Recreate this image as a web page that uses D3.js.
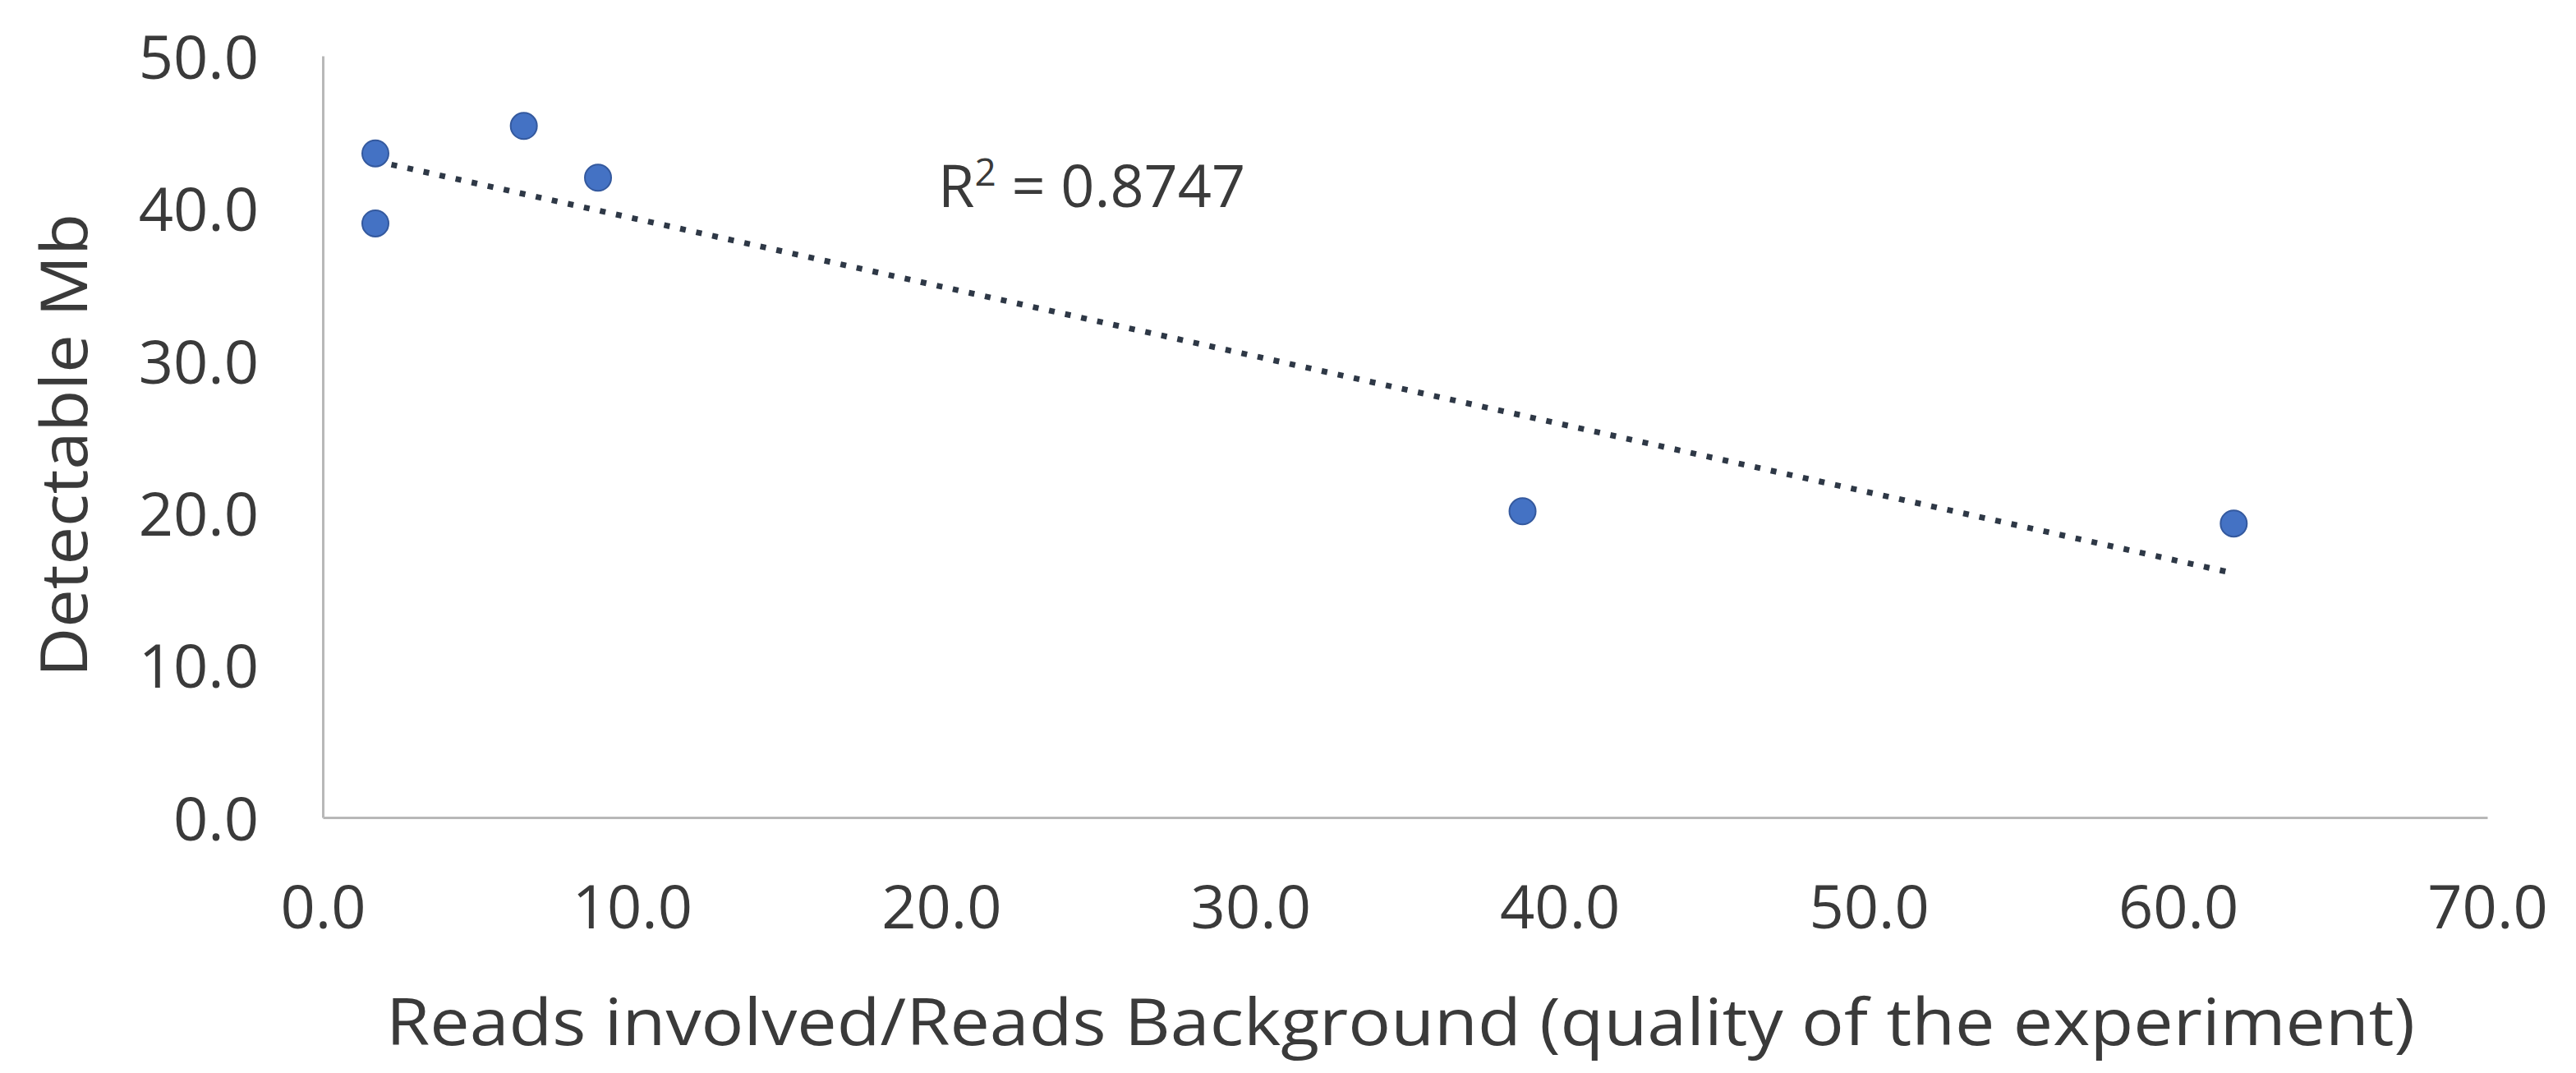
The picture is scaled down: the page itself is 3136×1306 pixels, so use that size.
<!DOCTYPE html>
<html>
<head>
<meta charset="utf-8">
<script src="https://cdn.jsdelivr.net/npm/d3@7"></script>
<style>
  html, body { margin: 0; padding: 0; background: #ffffff; }
  svg { display: block; }
</style>
</head>
<body>
<svg id="chart" width="3136" height="1306"></svg>
<script>
// Data
const xValues = [1.7, 1.7, 6.5, 8.9, 38.8, 61.8];
const yValues = [43.6, 39.0, 45.4, 42.0, 20.1, 19.3];
const xTicks = [0, 10, 20, 30, 40, 50, 60, 70];
const yTicks = [0, 10, 20, 30, 40, 50];
const xTitle = "Reads involved/Reads Background (quality of the experiment)";
const yTitle = "Detectable Mb";
const r2Label = "0.8747";

const points = xValues.map((x, i) => ({ x: x, y: yValues[i] }));

const svg = d3.select("#chart");
const font = "'Open Sans', 'Noto Sans', sans-serif";
const textColor = "#3a3a3a";

const x = d3.scaleLinear().domain([0, 70]).range([393, 3028]);
const y = d3.scaleLinear().domain([0, 50]).range([995, 68]);

// Axes
const yAxis = d3.axisLeft(y).tickValues(yTicks).tickSize(0).tickPadding(78)
  .tickFormat(d3.format(".1f"));
const xAxis = d3.axisBottom(x).tickValues(xTicks).tickSize(0).tickPadding(82)
  .tickFormat(d3.format(".1f"));

const gy = svg.append("g").attr("transform", `translate(${x(0)},0)`).call(yAxis);
const gx = svg.append("g").attr("transform", `translate(0,${y(0)})`).call(xAxis);

[gx, gy].forEach(g => {
  g.select(".domain").attr("stroke", "#b8b8b8").attr("stroke-width", 3);
  g.selectAll("text")
    .attr("font-family", font)
    .attr("font-size", 74)
    .attr("fill", textColor);
});
gy.selectAll("text").attr("dy", "0.37em");

// Trendline (least squares fit over the data)
const mx = d3.mean(xValues), my = d3.mean(yValues);
let sxy = 0, sxx = 0;
points.forEach(p => { sxy += (p.x - mx) * (p.y - my); sxx += (p.x - mx) ** 2; });
const slope = sxy / sxx;
const intercept = my - slope * mx;
const xMin = d3.min(xValues), xMax = d3.max(xValues);
const trend = [{ x: xMin, y: intercept + slope * xMin }, { x: xMax, y: intercept + slope * xMax }];

svg.append("path")
  .datum(trend)
  .attr("d", d3.line().x(d => x(d.x)).y(d => y(d.y)))
  .attr("fill", "none")
  .attr("stroke", "#2e3846")
  .attr("stroke-width", 7)
  .attr("stroke-dasharray", "7,13");

// Points
svg.append("g").selectAll("circle")
  .data(points)
  .enter().append("circle")
  .attr("cx", d => x(d.x))
  .attr("cy", d => y(d.y))
  .attr("r", 16)
  .attr("fill", "#4472C4")
  .attr("stroke", "#34599e")
  .attr("stroke-width", 2);

// R² label
const r2 = svg.append("text")
  .attr("x", 1142)
  .attr("y", 252)
  .attr("font-family", font)
  .attr("font-size", 72)
  .attr("fill", textColor);
r2.append("tspan").text("R");
r2.append("tspan").attr("dy", -26).attr("font-size", 46).text("2");
r2.append("tspan").attr("dy", 26).text(" = " + r2Label);

// Axis titles
svg.append("text")
  .attr("x", 1705)
  .attr("y", 1272)
  .attr("text-anchor", "middle")
  .attr("font-family", font)
  .attr("font-size", 78)
  .attr("fill", textColor)
  .attr("textLength", 2470)
  .attr("lengthAdjust", "spacingAndGlyphs")
  .text(xTitle);

svg.append("text")
  .attr("transform", "translate(106,542) rotate(-90)")
  .attr("text-anchor", "middle")
  .attr("font-family", font)
  .attr("font-size", 78)
  .attr("fill", textColor)
  .attr("textLength", 564)
  .attr("lengthAdjust", "spacingAndGlyphs")
  .text(yTitle);
</script>
</body>
</html>
